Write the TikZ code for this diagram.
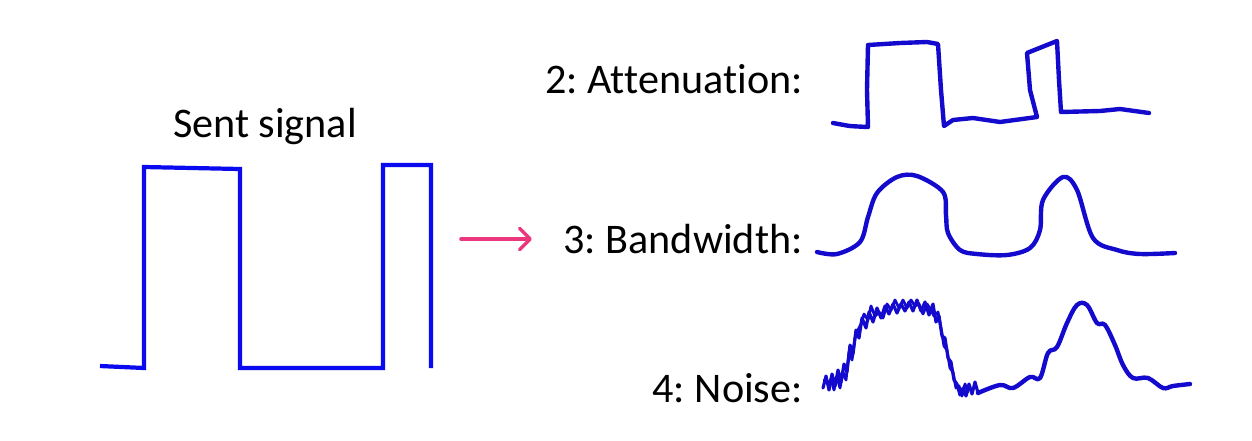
\documentclass[tikz,border=0pt]{standalone}
\usepackage{fontspec}
\setmainfont{Carlito}[Ligatures=NoCommon]
\usetikzlibrary{arrows.meta}
\definecolor{sentblue}{RGB}{10,10,240}
\definecolor{penblue}{RGB}{20,10,205}
\definecolor{arrowpink}{RGB}{235,55,125}
\tikzset{
	label/.style={font=\fontsize{24}{28}\selectfont, inner sep=0pt},
	sent/.style={sentblue, line width=2.4pt, line join=miter},
	pen/.style={penblue, line width=2.5pt, line join=round, line cap=round}
}
\frenchspacing
\begin{document}
\begin{tikzpicture}[x=0.02cm, y=-0.02cm]
				\useasboundingbox (0,0) rectangle (1252,440);
				%sent signal
				\node[label, anchor=base] (sentlbl) at (265, 137){Sent signal};
				\draw[sent] (100,366) -- (144,368) -- (144,167) -- (240,169) -- (240,368)
					-- (383,368) -- (383,165) -- (431,165) -- (431,368);
				
				%arrow
				\coordinate (arrowtail) at (461, 239);
				\coordinate (arrowhead) at (532, 239);
				\draw[arrowpink, line width=2pt, line cap=round, -{Straight Barb[length=6pt, width=12pt, round]}] (arrowtail) -- (arrowhead);
				
				%labels
				\node[label, anchor=base east] (attlbl) at (803, 93){2: Attenuation:};
				\node[label, anchor=base east] (bwlbl) at (803, 253){3: Bandwidth:};
				\node[label, anchor=base east] (noiselbl) at (803, 402){4: Noise:};
				
				%attenuation
				\draw[pen] plot[smooth, tension=0.25] coordinates {(833,123) (850,126) (868,127)}
					-- (867,90) -- (868,45) -- (900,43) -- (927,42) -- (938,44)
					-- (941,90) -- (944,126) -- (953,120) -- (973,118) -- (1000,122) -- (1037,117)
					-- (1030,90) -- (1027,53) -- (1057,41) -- (1059,80) -- (1061,112)
					-- (1100,111) -- (1120,109) -- (1149,113);
				
				%bandwidth
				\draw[pen] plot[smooth, tension=0.55] coordinates {(817,252) (837,254) (860,242)
					(868,217) (877,193) (897,177) (917,176) (943,192) (946,215) (948,233)
					(960,250) (977,254) (1007,255) (1030,248) (1040,230) (1043,200)
					(1063,177) (1077,190) (1093,238) (1117,250) (1140,254) (1175,253)};
				
				%noise
				\draw[pen, line width=1.8pt] (823,388) -- (826,376) -- (829,390) -- (832,374) -- (835,386)
					-- (838,370) -- (841,382) -- (844,364) -- (847,372) -- (850,345)
					-- (853,354) -- (856,330) -- (859,338) -- (862,318) -- (866,328)
					-- (869,312) -- (873,322) -- (877,308) -- (881,318) -- (885,306)
					-- (889,314) -- (893,304) -- (897,313) -- (901,304) -- (905,311)
					-- (909,302) -- (913,311) -- (917,300) -- (921,311) -- (925,302)
					-- (929,315) -- (933,304) -- (936,322) -- (939,316) -- (942,336)
					-- (945,338) -- (948,358) -- (951,362) -- (954,380) -- (957,384)
					-- (960,395) -- (963,388) -- (966,396) -- (969,384) -- (972,394)
					-- (975,382) -- (978,393);
				\draw[pen, line width=1.6pt] (824,380) -- (828,384) -- (831,379) -- (834,390) -- (837,377)
					-- (840,388) -- (843,372) -- (846,380) -- (849,352) -- (852,360)
					-- (855,338) -- (858,330) -- (861,324) -- (864,314) -- (868,320)
					-- (871,306) -- (875,316) -- (879,312) -- (883,318) -- (887,304)
					-- (891,310) -- (895,300) -- (899,308) -- (903,300) -- (907,308)
					-- (911,300) -- (915,306) -- (919,304) -- (923,314) -- (927,304)
					-- (931,310) -- (934,316) -- (938,312) -- (941,328) -- (944,346)
					-- (947,350) -- (950,368) -- (953,372) -- (956,388) -- (959,386)
					-- (962,396) -- (965,384) -- (968,392);
				\draw[pen] plot[smooth, tension=0.6] coordinates {(978,393) (1000,385) (1013,388)
					(1030,377) (1040,378) (1048,353) (1057,347) (1067,323) (1077,305)
					(1087,305) (1097,323) (1105,325) (1115,345) (1123,365) (1133,378)
					(1148,378) (1163,388) (1173,386) (1190,384)};
\end{tikzpicture}
\end{document}
